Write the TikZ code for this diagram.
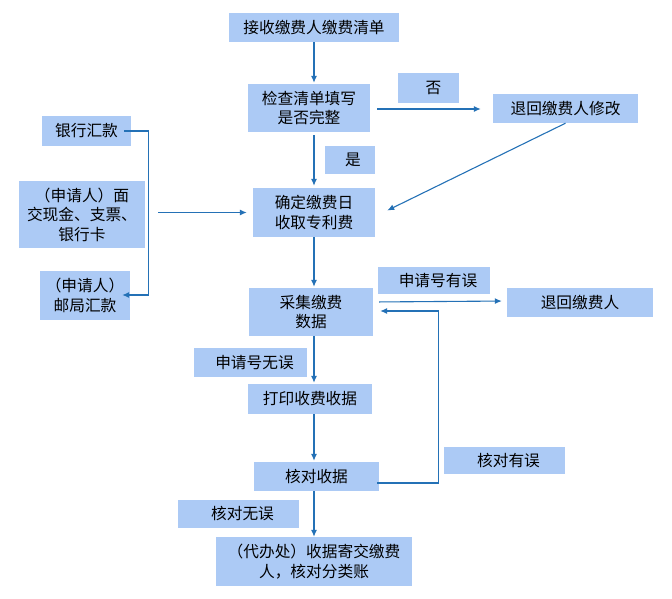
\documentclass[tikz,border=0pt]{standalone}
\usepackage{fontspec}
\newfontfamily\cjk{Noto Sans CJK SC}
\usetikzlibrary{arrows.meta,calc}
\definecolor{boxfill}{RGB}{172,202,245}
\definecolor{arrcol}{RGB}{36,113,182}
\tikzset{
  box/.style={fill=boxfill, draw=none, inner sep=0pt, align=center,
    font=\cjk\fontsize{15.7}{19.5}\selectfont, text=black},
  lbl/.style={box},
  arr/.style={draw=arrcol, line width=1.1pt, -{Latex[length=7pt,width=6pt]}},
}
\begin{document}
\begin{tikzpicture}[x=1pt,y=-1pt]
\useasboundingbox (0,0) rectangle (672,599);
% main boxes
\node[box, minimum width=170, minimum height=29] (b1) at (314,27.5) {接收缴费人缴费清单};
\node[box, minimum width=122, minimum height=48] (b2) at (309,108) {检查清单填写\\是否完整};
\node[lbl, minimum width=61, minimum height=30] (no) at (428.5,88) {\hspace*{10pt}否};
\node[box, minimum width=145, minimum height=29] (r1) at (565.5,108.5) {退回缴费人修改};
\node[lbl, minimum width=50, minimum height=28] (yes) at (350,160) {\hspace*{6pt}是};
\node[box, minimum width=122, minimum height=49] (b3) at (314,212.5) {确定缴费日\\收取专利费};
\node[box, minimum width=89, minimum height=30] (bank) at (86.5,131) {银行汇款};
\node[box, minimum width=126, minimum height=67] (cash) at (82,214.5) {（申请人）面\\交现金、支票、\\银行卡};
\node[box, minimum width=90, minimum height=49] (post) at (85,295.5) {（申请人）\\邮局汇款};
\node[box, minimum width=124, minimum height=48] (b4) at (311,312) {采集缴费\\数据};
\node[lbl, minimum width=112, minimum height=27] (err1) at (434,280.5) {\hspace*{8pt}申请号有误};
\node[box, minimum width=146, minimum height=29] (r2) at (580,302.5) {退回缴费人};
\node[lbl, minimum width=113, minimum height=29] (ok1) at (250.5,362.5) {\hspace*{8pt}申请号无误};
\node[box, minimum width=124, minimum height=30] (b5) at (310,399) {打印收费收据};
\node[box, minimum width=125, minimum height=29] (b6) at (316.5,476.5) {核对收据};
\node[lbl, minimum width=121, minimum height=27] (err2) at (504.5,460.5) {\hspace*{8pt}核对有误};
\node[lbl, minimum width=121, minimum height=28] (ok2) at (238.5,514) {\hspace*{8pt}核对无误};
\node[box, minimum width=196, minimum height=49] (b7) at (314,561.5) {（代办处）收据寄交缴费\\人，核对分类账};
% vertical flow
\draw[arr, shorten >=1pt] (b1.south) -- (b2.north -| b1.south);
\draw[arr, shorten <=3pt, shorten >=2pt] (b2.south -| b1.south) -- (b3.north -| b1.south);
\draw[arr, shorten >=1pt] (b3.south -| b1.south) -- (b4.north -| b1.south);
\draw[arr, shorten >=1pt] (b4.south -| b1.south) -- (b5.north -| b1.south);
\draw[arr, shorten >=1pt] (b5.south -| b1.south) -- (b6.north -| b1.south);
\draw[arr] (b6.south -| b1.south) -- (b7.north -| b1.south);
% branches
\draw[arr, shorten <=7pt, shorten >=12pt] ($(b2.east)+(0,1)$) -- ($(r1.west)+(0,0.5)$);
\draw[arr] (r1.south) -- ($(b3.east)+(12,-2)$);
\draw[arr] ($(bank.east)+(-7,0)$) -- ++(24,0) |- ($(post.east)+(-8,-0.5)$);
\draw[arr, shorten <=13pt, shorten >=6pt] (cash.east |- b3.west) -- (b3.west);
\draw[arr, shorten <=6pt, shorten >=5pt] ($(b4.east |- r2.west)+(0,-0.5)$) -- ($(r2.west)+(0,-1.5)$);
\draw[arr] ($(b6.east)+(-2,6.5)$) -- ++(61,0) |- ($(b4.east)+(7,-1)$);
\end{tikzpicture}
\end{document}
